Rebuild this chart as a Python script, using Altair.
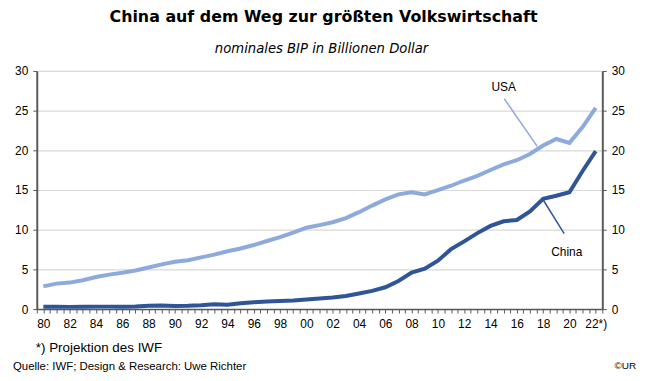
import altair as alt
import pandas as pd

years = [1980, 1981, 1982, 1983, 1984, 1985, 1986, 1987, 1988, 1989,
         1990, 1991, 1992, 1993, 1994, 1995, 1996, 1997, 1998, 1999,
         2000, 2001, 2002, 2003, 2004, 2005, 2006, 2007, 2008, 2009,
         2010, 2011, 2012, 2013, 2014, 2015, 2016, 2017, 2018, 2019,
         2020, 2021, 2022]
usa = [2.86, 3.21, 3.34, 3.63, 4.04, 4.34, 4.58, 4.86, 5.24, 5.64,
       5.96, 6.16, 6.52, 6.86, 7.29, 7.64, 8.07, 8.58, 9.06, 9.63,
       10.25, 10.58, 10.94, 11.46, 12.21, 13.04, 13.82, 14.45, 14.71, 14.45,
       14.99, 15.54, 16.20, 16.78, 17.53, 18.24, 18.75, 19.54, 20.61, 21.43,
       20.94, 22.94, 25.35]
china = [0.30, 0.29, 0.28, 0.30, 0.31, 0.31, 0.30, 0.32, 0.41, 0.46,
         0.39, 0.41, 0.49, 0.62, 0.56, 0.73, 0.86, 0.96, 1.03, 1.09,
         1.21, 1.34, 1.47, 1.66, 1.96, 2.29, 2.75, 3.55, 4.59, 5.10,
         6.09, 7.55, 8.53, 9.57, 10.48, 11.06, 11.23, 12.31, 13.89, 14.28,
         14.72, 17.40, 19.91]
y_ticks = [0, 5, 10, 15, 20, 25, 30]
x_tick_values = [1979.5 + 0.5 * i for i in range(87)]

title_text = "China auf dem Weg zur größten Volkswirtschaft"
subtitle_text = "nominales BIP in Billionen Dollar"
footnote_text = "*) Projektion des IWF"
source_text = "Quelle: IWF; Design & Research: Uwe Richter"
copyright_text = "©UR"

usa_label = [{"x": 2015.0, "y": 28.0, "t": "USA"}]
usa_leader = [{"x": 2015.05, "y": 26.5, "x2": 2017.55, "y2": 20.5}]
china_label = [{"x": 2019.8, "y": 7.2, "t": "China"}]
china_leader = [{"x": 2017.95, "y": 13.9, "x2": 2019.6, "y2": 9.5}]

USA_COLOR = "#8EAADC"
CHINA_COLOR = "#2F5597"
AXIS_COLOR = "#595959"
FONT = "Liberation Sans"

df = pd.DataFrame({"year": years, "USA": usa, "China": china})

x_scale = alt.Scale(domain=[1979.5, 2022.5], nice=False, zero=False)
y_scale = alt.Scale(domain=[0, 30], nice=False)

x_axis = alt.Axis(
    values=x_tick_values,
    labelExpr="datum.value == 2022 ? '22*)' : (datum.value % 2 == 0 ? slice(toString(datum.value), 2) : '')",
    labelOverlap=False, labelFlush=False, grid=False, orient="bottom",
    tickSize=4, tickColor=AXIS_COLOR, domainColor=AXIS_COLOR, domainWidth=1.5,
    labelFont=FONT, labelFontSize=12, labelColor="#000000", labelPadding=6, title=None,
)
y_axis_left = alt.Axis(
    values=y_ticks, orient="left", grid=True, gridColor="#D9D9D9", gridWidth=1.2,
    tickSize=4, tickColor=AXIS_COLOR, domainColor=AXIS_COLOR, domainWidth=2,
    labelFont=FONT, labelFontSize=12, labelColor="#000000", labelPadding=5, title=None,
)
y_axis_right = alt.Axis(
    values=y_ticks, orient="right", grid=False,
    tickSize=4, tickColor=AXIS_COLOR, domainColor=AXIS_COLOR, domainWidth=2,
    labelFont=FONT, labelFontSize=12, labelColor="#000000", labelPadding=5, title=None,
)

base = alt.Chart(df)

usa_line = base.mark_line(color=USA_COLOR, strokeWidth=4).encode(
    x=alt.X("year:Q", scale=x_scale, axis=x_axis),
    y=alt.Y("USA:Q", scale=y_scale, axis=y_axis_left),
)
china_line = base.mark_line(color=CHINA_COLOR, strokeWidth=4).encode(
    x=alt.X("year:Q", scale=x_scale, axis=x_axis),
    y=alt.Y("China:Q", scale=y_scale, axis=y_axis_right),
)

usa_rule = alt.Chart(alt.Data(values=usa_leader)).mark_rule(color=USA_COLOR, strokeWidth=1.5).encode(
    x=alt.X("x:Q", scale=x_scale, axis=x_axis), y=alt.Y("y:Q", scale=y_scale, axis=None),
    x2="x2:Q", y2="y2:Q")
china_rule = alt.Chart(alt.Data(values=china_leader)).mark_rule(color=CHINA_COLOR, strokeWidth=1.5).encode(
    x=alt.X("x:Q", scale=x_scale, axis=x_axis), y=alt.Y("y:Q", scale=y_scale, axis=None),
    x2="x2:Q", y2="y2:Q")
usa_text = alt.Chart(alt.Data(values=usa_label)).mark_text(font=FONT, fontSize=12, color="#000000").encode(
    x=alt.X("x:Q", scale=x_scale, axis=x_axis), y=alt.Y("y:Q", scale=y_scale, axis=None), text="t:N")
china_text = alt.Chart(alt.Data(values=china_label)).mark_text(font=FONT, fontSize=12, color="#000000").encode(
    x=alt.X("x:Q", scale=x_scale, axis=x_axis), y=alt.Y("y:Q", scale=y_scale, axis=None), text="t:N")


def free_text(txt, px, py, **kw):
    return alt.Chart(alt.Data(values=[{"t": txt}])).mark_text(baseline="alphabetic", **kw).encode(
        x=alt.value(px), y=alt.value(py), text="t:N")


title = free_text(title_text, 289, -49, font="DejaVu Sans", fontSize=16, fontWeight="bold", color="#000000")
subtitle = free_text(subtitle_text, 287, -18, font="DejaVu Sans", fontSize=13.3, fontStyle="italic", color="#000000")
foot = free_text(footnote_text, -1, 283, font=FONT, fontSize=13.5, align="left", color="#000000")
source = free_text(source_text, -24, 301, font=FONT, fontSize=11.5, align="left", color="#000000")
copy = free_text(copyright_text, 604, 300, font=FONT, fontSize=10, align="right", color="#000000")

chart = alt.layer(
    usa_line, china_line, usa_rule, china_rule, usa_text, china_text,
    title, subtitle, foot, source, copy,
).resolve_scale(y="independent").resolve_axis(y="independent").properties(
    width=570, height=240,
    autosize=alt.AutoSizeParams(type="none"),
    padding={"left": 29, "top": 62, "right": 40, "bottom": 70},
    background="#FFFFFF",
).configure_view(stroke=None)

chart.save("out.html", embed_options={"renderer": "svg", "actions": False})
